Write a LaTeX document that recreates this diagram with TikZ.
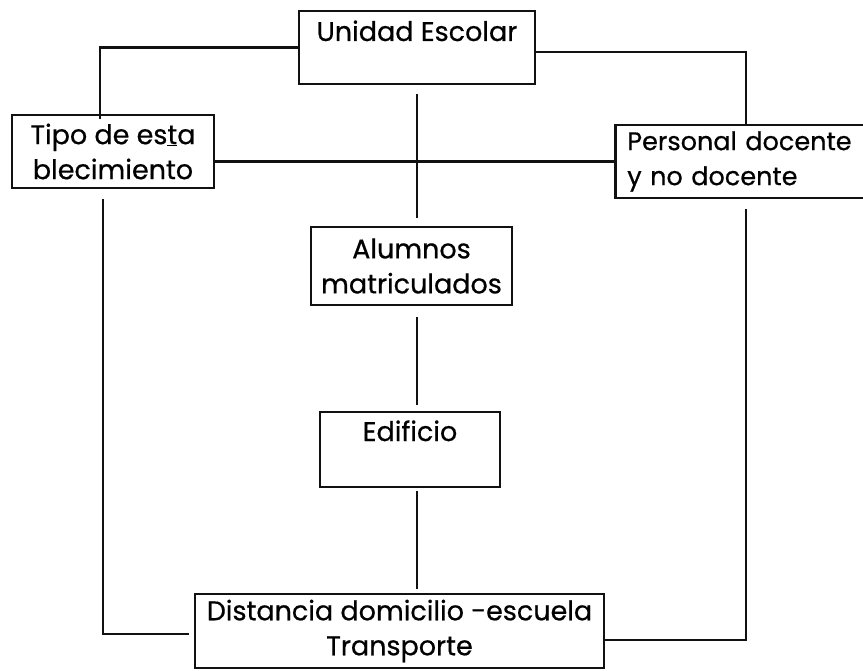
\documentclass[tikz,border=0pt]{standalone}
\usepackage{fontspec}
\setmainfont{Poppins}[FakeBold=0.6]
\usepackage{xcolor}
\definecolor{ki}{HTML}{111111}
\definecolor{kw}{HTML}{ffffff}

\begin{document}
\begin{tikzpicture}[x=1pt,y=-1pt,
  caja/.style={draw=ki,line width=2.6pt,inner sep=0pt,align=center,
    font=\fontsize{27}{35}\selectfont},
  enlace/.style={draw=ki,line width=2.3pt}]
  \fill[kw] (0,0) rectangle (863,671);
  \useasboundingbox (0,0) rectangle (863,671);

  % The boxes
  \node[caja,minimum width=236pt,text height=30pt,text depth=43pt] (unidad) at (417,47.5) {Unidad Escolar};
  \node[caja,minimum width=202pt,minimum height=73pt] (tipo) at (113,151.5) {Tipo de es\underline{t}a\\blecimiento};
  \node[caja,anchor=west,align=left,text width=238pt,inner xsep=12pt,minimum height=73pt,
    font=\fontsize{25.5}{35}\selectfont] (personal) at (614,161.5) {Personal docente\\y no docente};
  \node[caja,minimum width=201pt,minimum height=78pt] (alumnos) at (411.5,266) {Alumnos\\matriculados};
  \node[caja,minimum width=180pt,text height=29pt,text depth=46pt] (edificio) at (410,449.5) {Edificio};
  \node[caja,minimum width=409pt,minimum height=74pt] (distancia) at (399.5,631) {Distancia domicilio -escuela\\Transporte};

  % Elbows from the top box
  \draw[enlace] (unidad.west) -| ([xshift=-13pt,yshift=-5pt]tipo.north);
  \draw[enlace] ([yshift=-4.5pt]unidad.east) -| (personal.north);

  % Cross line between the two side boxes
  \draw[enlace] (tipo.east |- personal.west) -- (personal.west);

  % Central spine
  \draw[enlace,shorten <=9pt,shorten >=8pt] (unidad.south) -- (unidad.south |- alumnos.north);
  \draw[enlace,shorten <=11pt,shorten >=6pt] (unidad.south |- alumnos.south) -- (unidad.south |- edificio.north);
  \draw[enlace,shorten <=3pt,shorten >=4pt] (unidad.south |- edificio.south) -- (unidad.south |- distancia.north);

  % Side returns to the bottom box
  \draw[enlace,shorten <=10pt,shorten >=5pt] ([xshift=-10pt]tipo.south) |- ([yshift=-3pt]distancia.west);
  \draw[enlace,shorten <=10pt] (personal.south) |- ([yshift=-9pt]distancia.east);
\end{tikzpicture}
\end{document}
